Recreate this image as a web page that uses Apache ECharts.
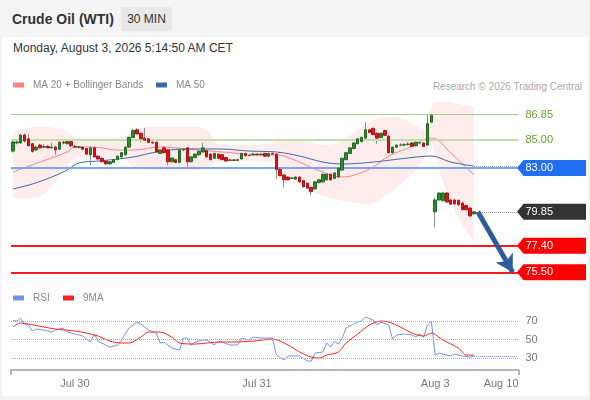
<!DOCTYPE html>
<html lang="en">
<head>
    <meta charset="UTF-8">
    <title>Crude Oil (WTI)</title>
    <script src="https://cdn.jsdelivr.net/npm/echarts@6/dist/echarts.min.js"></script>
    <style>
        html, body { margin: 0; padding: 0; }
        body {
            width: 590px; height: 400px; overflow: hidden; position: relative;
            background: #f4f4f4; font-family: Arial, "Liberation Sans", sans-serif;
        }
        .panel { position: absolute; left: 2px; top: 37px; width: 586px; height: 359px; background: #fff; }
        .title { position: absolute; left: 12px; top: 10px; font-size: 14px; font-weight: bold; color: #333; line-height: 18px; }
        .badge {
            position: absolute; left: 121px; top: 7px; width: 51px; height: 24px; line-height: 24px;
            background: #e8e8e8; text-align: center; font-size: 12px; color: #333; border-radius: 2px;
        }
        .date { position: absolute; left: 13px; top: 40px; font-size: 12px; color: #333; line-height: 16px; }
        .credit { position: absolute; right: 8px; top: 80px; font-size: 10px; color: #aaa; line-height: 13px; }
        #chart { position: absolute; left: 0; top: 0; width: 590px; height: 400px; }
    </style>
</head>
<body>
    <div class="panel"></div>
    <div class="title">Crude Oil (WTI)</div>
    <div class="badge">30 MIN</div>
    <div class="date">Monday, August 3, 2026 5:14:50 AM CET</div>
    <div class="credit">Research © 2026 Trading Central</div>
    <div id="chart"></div>
    <script>
        // 30 min candles: [open, close, low, high]
        const candles = [
            [84.22, 84.87, 84.10, 84.95], [84.80, 84.87, 84.70, 85.00], [84.80, 85.37, 84.75, 85.45], [85.37, 84.94, 84.85, 85.50],
            [85.10, 84.60, 84.55, 85.45], [84.75, 84.20, 84.10, 84.80], [84.30, 84.50, 84.20, 84.60], [84.65, 84.45, 84.40, 84.75],
            [84.50, 84.55, 84.40, 84.70], [84.55, 84.45, 84.40, 84.65], [84.45, 84.50, 84.40, 84.80], [84.50, 84.30, 83.95, 84.60],
            [84.35, 84.85, 84.30, 85.05], [84.85, 84.80, 84.70, 85.00], [84.75, 84.90, 84.70, 85.00], [84.90, 84.60, 84.50, 84.95],
            [84.55, 84.50, 84.45, 84.65], [84.50, 84.52, 84.40, 84.60], [84.50, 84.35, 84.30, 84.55], [84.40, 84.00, 83.95, 84.45],
            [83.95, 84.45, 83.20, 84.50], [84.45, 83.80, 83.75, 84.55], [83.85, 83.65, 83.60, 83.90], [83.70, 83.45, 83.40, 83.75],
            [83.50, 83.30, 83.20, 83.55], [83.30, 83.45, 83.20, 83.50], [83.40, 83.60, 83.35, 83.65], [83.60, 83.85, 83.55, 83.90],
            [83.80, 84.10, 83.75, 84.15], [83.95, 84.50, 83.90, 84.55], [84.50, 85.20, 84.45, 85.25], [85.20, 85.70, 85.15, 85.80],
            [85.75, 85.45, 85.40, 85.85], [85.50, 85.10, 84.85, 85.55], [85.15, 85.00, 84.95, 85.90], [85.10, 84.85, 84.80, 85.15],
            [84.85, 84.80, 84.75, 84.90], [84.85, 84.15, 84.10, 84.90], [84.05, 84.30, 84.00, 84.35], [84.45, 84.10, 84.05, 84.55],
            [84.30, 83.45, 83.20, 84.35], [83.45, 83.72, 83.40, 83.75], [83.60, 83.40, 83.35, 83.65], [83.40, 84.30, 83.35, 84.35],
            [84.30, 84.32, 84.20, 84.45], [84.45, 83.45, 83.00, 84.50], [83.45, 83.80, 83.40, 83.85], [83.75, 84.00, 83.70, 84.05],
            [83.95, 84.20, 83.90, 84.25], [84.15, 84.45, 84.10, 84.80], [84.25, 83.80, 83.75, 84.30], [84.00, 83.60, 83.55, 84.05],
            [83.70, 84.05, 83.65, 84.10], [84.00, 83.70, 83.65, 84.05], [83.95, 83.60, 83.55, 84.00], [83.75, 83.50, 83.45, 83.80],
            [83.55, 83.58, 83.50, 83.65], [83.58, 83.55, 83.50, 83.65], [83.55, 83.60, 83.50, 83.65], [83.65, 84.05, 83.60, 84.10],
            [84.05, 83.88, 83.85, 84.10], [83.90, 83.90, 83.85, 84.00], [83.95, 84.00, 83.90, 84.10], [84.00, 83.95, 83.90, 84.05],
            [83.95, 84.00, 83.90, 84.05], [84.05, 83.85, 83.80, 84.10], [83.85, 84.05, 83.80, 84.10], [84.05, 84.00, 83.95, 84.10],
            [84.00, 82.90, 82.20, 84.05], [82.90, 82.45, 82.40, 82.95], [82.50, 82.15, 81.60, 82.55], [82.35, 82.15, 82.10, 82.40],
            [82.25, 82.28, 82.20, 82.35], [82.20, 82.35, 82.15, 82.40], [82.35, 82.00, 81.95, 82.40], [82.10, 81.65, 81.60, 82.15],
            [81.90, 81.55, 81.50, 81.95], [81.60, 81.30, 81.05, 81.65], [81.50, 82.00, 81.45, 82.05], [81.95, 82.15, 81.90, 82.20],
            [82.00, 82.55, 81.95, 82.60], [82.15, 82.55, 82.10, 82.60], [82.55, 82.15, 82.10, 82.60], [82.25, 82.65, 82.20, 82.70],
            [82.35, 83.00, 82.30, 83.05], [82.85, 83.70, 82.80, 83.75], [83.60, 84.10, 83.55, 84.15], [84.05, 84.45, 84.00, 84.50],
            [84.40, 84.80, 84.35, 84.85], [84.75, 85.10, 84.70, 85.15], [84.90, 85.20, 84.85, 85.25], [85.15, 85.75, 85.10, 86.30],
            [85.75, 85.55, 85.50, 85.80], [85.85, 85.40, 85.35, 85.90], [85.50, 85.15, 84.75, 85.55], [85.20, 85.50, 85.15, 85.55],
            [85.70, 85.35, 85.30, 85.75], [85.30, 84.10, 84.05, 85.35], [84.10, 84.50, 84.05, 84.55], [84.50, 84.65, 84.45, 84.70],
            [84.65, 84.65, 84.55, 84.80], [84.65, 84.68, 84.55, 84.80], [84.70, 84.72, 84.60, 84.85], [84.80, 84.55, 84.50, 84.85],
            [84.60, 84.85, 84.55, 84.90], [84.80, 84.82, 84.70, 84.90], [84.80, 84.55, 84.50, 84.85], [84.65, 86.20, 84.60, 86.85],
            [86.30, 86.80, 86.25, 86.85], [79.85, 80.70, 78.75, 80.85], [80.70, 81.20, 80.65, 81.25], [80.65, 81.20, 80.60, 81.30],
            [81.20, 80.55, 80.50, 81.25], [80.70, 80.40, 80.35, 80.75], [80.70, 80.42, 80.35, 80.75], [80.68, 80.35, 80.30, 80.72],
            [80.48, 80.00, 79.95, 80.52], [80.30, 80.00, 79.95, 80.35], [80.12, 79.55, 79.50, 80.15], [79.70, 79.85, 79.65, 79.90]
        ];

        // moving averages: [candle index, price]
        const ma20 = [[0, 82.71], [7, 83.43], [14, 84.15], [16, 84.51], [20, 84.51], [23, 84.44], [27, 84.29], [31, 84.29],
            [38, 84.51], [45, 84.37], [48, 84.29], [57, 84.08], [62, 83.94], [68, 83.94], [72, 83.65], [75, 83.29],
            [80, 82.71], [85, 82.35], [89, 82.57], [93, 83.07], [97, 83.86], [102, 84.44], [108, 85.16], [113, 84.08], [119, 82.50]];
        const ma50 = [[0, 81.49], [5, 81.85], [10, 82.35], [14, 82.86], [17, 83.36], [22, 83.50], [31, 83.79], [37, 84.15],
            [45, 84.37], [53, 84.37], [61, 84.22], [68, 84.15], [74, 83.86], [80, 83.43], [85, 83.29], [93, 83.43],
            [102, 83.72], [108, 83.86], [113, 83.43], [119, 83.14]];

        // bollinger bands
        const bandIndex = [0, 4, 8, 11, 14, 16, 19, 25, 29, 32, 38, 46, 50, 53, 60, 67, 70, 75, 81, 87, 92, 96, 100, 104, 107, 108, 109, 112, 115, 119];
        const bandUpper = [85.59, 85.88, 85.95, 85.88, 85.59, 85.23, 85.16, 85.16, 85.30, 85.88, 85.95, 85.95, 85.73, 84.73, 84.65,
            84.80, 85.01, 84.94, 84.65, 85.37, 86.31, 86.67, 86.60, 86.02, 85.59, 87.17, 87.75, 87.75, 87.60, 87.39];
        const bandLower = [80.84, 80.84, 81.13, 82.06, 83.07, 83.72, 83.79, 83.72, 83.58, 83.00, 82.86, 82.86, 83.00, 83.50, 83.50,
            83.43, 82.71, 81.71, 80.91, 80.55, 80.41, 80.99, 81.85, 82.86, 84.08, 84.80, 83.72, 81.27, 79.40, 77.68];

        // RSI panel: [candle index, value]
        const rsi = [[0, 70.5], [1, 70.0], [2, 73.2], [3, 66.8], [4, 65.7], [5, 59.3], [6, 61.4], [8, 60.3], [10, 58.2], [11, 60.3],
            [13, 62.5], [14, 58.2], [16, 56.1], [18, 53.9], [20, 47.5], [21, 56.1], [22, 48.5], [25, 42.1], [27, 44.3], [28, 49.6],
            [30, 62.5], [32, 68.9], [33, 66.8], [35, 60.3], [37, 57.1], [38, 46.4], [39, 47.5], [40, 44.3], [41, 41.0], [43, 38.9],
            [44, 51.8], [45, 51.8], [46, 44.3], [47, 47.5], [49, 49.6], [50, 49.6], [52, 44.3], [53, 48.5], [54, 47.5], [56, 44.3],
            [58, 44.3], [59, 51.8], [61, 49.6], [62, 52.8], [64, 51.8], [66, 51.8], [67, 51.8], [68, 33.5], [70, 28.2], [71, 32.5],
            [73, 32.5], [74, 32.5], [76, 27.1], [77, 27.1], [78, 35.7], [80, 36.8], [81, 46.4], [82, 42.1], [83, 48.5], [84, 45.3],
            [85, 51.8], [86, 62.5], [88, 66.8], [89, 68.9], [90, 70.0], [91, 74.3], [93, 71.1], [94, 65.7], [95, 68.9], [97, 65.7],
            [98, 50.7], [99, 55.0], [101, 56.1], [103, 55.0], [104, 52.8], [105, 56.1], [106, 52.8], [107, 65.7], [108, 70.0],
            [109, 33.5], [110, 35.7], [112, 33.5], [113, 32.5], [114, 34.6], [116, 32.5], [118, 31.4], [119, 32.5]];
        const rsiMa9 = [[0, 63.6], [2, 67.9], [4, 66.8], [8, 63.6], [11, 61.4], [16, 59.3], [19, 57.1], [22, 53.9], [25, 48.5],
            [28, 46.4], [30, 46.4], [33, 52.8], [35, 58.2], [38, 58.2], [41, 52.8], [43, 46.4], [47, 45.3], [50, 46.4], [54, 47.5],
            [57, 47.5], [62, 48.5], [67, 50.7], [71, 44.3], [74, 36.8], [77, 31.4], [79, 30.3], [81, 33.5], [84, 36.8], [86, 46.4],
            [89, 56.1], [92, 65.7], [95, 70.0], [97, 68.9], [100, 63.6], [103, 57.1], [106, 53.9], [108, 57.1], [111, 49.6],
            [115, 41.0], [117, 33.5], [119, 33.5]];
        const rsiLevels = [30, 50, 70];

        // price levels and target arrow
        const levelValues = [86.85, 85.00, 83.00, 79.85, 77.40, 75.50];
        const lastPrice = 79.85;
        const lastMa50 = 83.14;
        const arrowPath = [[120, 79.85], [129, 75.50]];

        // x axis slots and date labels
        const slotCount = 131;
        const labelIndex = [16, 63, 109, 126];
        const labelText = ['Jul 30', 'Jul 31', 'Aug 3', 'Aug 10'];

        const categories = Array.from({ length: slotCount }, () => '');
        labelIndex.forEach((k, j) => { categories[k] = labelText[j]; });
        const lastIdx = candles.length - 1;
        const lastRsi = rsi[rsi.length - 1][1];

        const bodies = candles.map(d => [d[0], d[1], Math.min(d[0], d[1]), Math.max(d[0], d[1])]);
        const bandLow = bandIndex.map((k, j) => [k, bandLower[j]]);
        const bandWidth = bandIndex.map((k, j) => [k, bandUpper[j] - bandLower[j]]);

        // right-hand price tags
        const tagFill = [null, null, '#1f6ff0', '#333333', '#ff0000', '#ff0000'];
        const lineStyles = [
            { color: '#a3cf86', width: 1, type: 'solid' },
            { color: '#bfe0a6', width: 2, type: 'solid' },
            { color: '#7aa6f5', width: 2, type: 'solid' },
            null,
            { color: '#ff1a1a', width: 2, type: 'solid' },
            { color: '#ff1a1a', width: 2, type: 'solid' }
        ];

        function renderTag(params, api) {
            const k = params.dataIndex;
            const v = api.value(1);
            const y = api.coord([0, v])[1];
            const x0 = params.coordSys.x + params.coordSys.width;
            const text = v.toFixed(2);
            if (!tagFill[k]) {
                return {
                    type: 'text',
                    style: { x: x0 + 7, y: y, text: text, fill: '#62a62c', font: '11px Arial', verticalAlign: 'middle' }
                };
            }
            return {
                type: 'group',
                children: [
                    {
                        type: 'polygon',
                        shape: { points: [[x0 - 1.5, y], [x0 + 5, y - 8], [x0 + 67.5, y - 8], [x0 + 67.5, y + 8], [x0 + 5, y + 8]] },
                        style: { fill: tagFill[k] }
                    },
                    {
                        type: 'text',
                        style: { x: x0 + 7, y: y, text: text, fill: '#fff', font: '11px Arial', verticalAlign: 'middle' }
                    }
                ]
            };
        }

        const levelLines = [];
        levelValues.forEach((v, k) => {
            if (lineStyles[k]) levelLines.push({ yAxis: v, lineStyle: lineStyles[k] });
        });
        levelLines.push([
            { coord: [lastIdx, lastPrice], lineStyle: { color: '#999', width: 1, type: 'dotted' } },
            { coord: [slotCount - 1, lastPrice] }
        ]);
        levelLines.push([
            { coord: [lastIdx, lastMa50], lineStyle: { color: '#999', width: 1, type: 'dotted' } },
            { coord: [slotCount - 1, lastMa50] }
        ]);

        function legendAt(name, left, top) {
            return {
                data: [name], left: left, top: top, padding: 0, icon: 'rect',
                itemWidth: 11, itemHeight: 5, selectedMode: false,
                textStyle: { color: '#888', fontSize: 10, fontFamily: 'Arial', padding: [0, 0, 0, 4] }
            };
        }

        const myChart = echarts.init(document.getElementById('chart'));
        const option = {
            animation: false,
            legend: [
                legendAt('MA 20 + Bollinger Bands', 13, 80),
                legendAt('MA 50', 156, 80),
                legendAt('RSI', 13, 293),
                legendAt('9MA', 63, 293)
            ],
            grid: [
                { left: 11, top: 98.5, width: 507.5, height: 180.7 },
                { left: 11, top: 311.7, width: 507.5, height: 58.3 }
            ],
            xAxis: [
                { type: 'category', gridIndex: 0, data: categories, show: false },
                {
                    type: 'category', gridIndex: 1, data: categories,
                    axisLine: { lineStyle: { color: '#b8b8b8', width: 2 } },
                    axisTick: { show: true, interval: (i) => i === 0, length: 5, lineStyle: { color: '#b8b8b8', width: 2 } },
                    axisLabel: { interval: 0, color: '#777', fontSize: 11, fontFamily: 'Arial', margin: 8 }
                }
            ],
            yAxis: [
                { type: 'value', gridIndex: 0, min: 75, max: 88, show: false },
                { type: 'value', gridIndex: 1, min: 17.5, max: 80, show: false }
            ],
            series: [
                {
                    name: 'bandLow', type: 'line', stack: 'bb', data: bandLow, smooth: 0.4,
                    symbol: 'none', lineStyle: { opacity: 0 }, silent: true, z: 1
                },
                {
                    name: 'bandWidth', type: 'line', stack: 'bb', data: bandWidth, smooth: 0.4,
                    symbol: 'none', lineStyle: { opacity: 0 }, silent: true, z: 1,
                    areaStyle: { color: 'rgba(255, 175, 175, 0.32)' }
                },
                {
                    name: 'levels', type: 'line', data: [], silent: true, z: 2,
                    markLine: { symbol: 'none', silent: true, animation: false, label: { show: false }, data: levelLines }
                },
                {
                    name: 'MA 20 + Bollinger Bands', type: 'line', data: ma20, smooth: 0.4, symbol: 'none',
                    itemStyle: { color: '#ff8080' }, lineStyle: { color: '#ff8080', width: 1 }, z: 3
                },
                {
                    name: 'MA 50', type: 'line', data: ma50, smooth: 0.4, symbol: 'none',
                    itemStyle: { color: '#3c66a6' }, lineStyle: { color: '#3c66a6', width: 1 }, z: 3
                },
                {
                    name: 'wicks', type: 'candlestick', data: candles, barWidth: 1, silent: true, z: 4,
                    itemStyle: { color: '#8c8c8c', color0: '#8c8c8c', borderColor: '#8c8c8c', borderColor0: '#8c8c8c', borderWidth: 1 }
                },
                {
                    name: 'bodies', type: 'candlestick', data: bodies, barWidth: 3, silent: true, z: 5,
                    itemStyle: { color: '#2e8b2e', color0: '#e3141b', borderColor: '#1f6a1f', borderColor0: '#b00f14', borderWidth: 1 }
                },
                {
                    name: 'arrow', type: 'line', data: [], silent: true, z: 6,
                    markLine: {
                        symbol: ['none', 'arrow'], symbolSize: [15, 17], silent: true, animation: false,
                        label: { show: false },
                        lineStyle: { color: '#2e5c9a', width: 5, type: 'solid' },
                        data: [[{ coord: arrowPath[0] }, { coord: arrowPath[1] }]]
                    }
                },
                {
                    name: 'tags', type: 'custom', data: levelValues.map(v => [0, v]), renderItem: renderTag,
                    clip: false, silent: true, z: 7
                },
                {
                    name: 'RSI', type: 'line', xAxisIndex: 1, yAxisIndex: 1, data: rsi, symbol: 'none',
                    itemStyle: { color: '#7393ea' }, lineStyle: { color: '#7393ea', width: 1 }, z: 3,
                    markLine: {
                        symbol: 'none', silent: true, animation: false,
                        data: rsiLevels.map(v => ({
                            yAxis: v,
                            lineStyle: { color: '#aaa', width: 1, type: 'dotted' },
                            label: { show: true, position: 'end', formatter: String(v), color: '#777', fontSize: 11, fontFamily: 'Arial', distance: 7 }
                        })).concat([[
                            { coord: [lastIdx, lastRsi], lineStyle: { color: '#7393ea', width: 1, type: 'dotted' }, label: { show: false } },
                            { coord: [slotCount - 1, lastRsi] }
                        ]])
                    }
                },
                {
                    name: '9MA', type: 'line', xAxisIndex: 1, yAxisIndex: 1, data: rsiMa9, smooth: 0.3, symbol: 'none',
                    itemStyle: { color: '#ff2020' }, lineStyle: { color: '#ff2020', width: 1 }, z: 4
                }
            ]
        };
        myChart.setOption(option);
    </script>
</body>
</html>
